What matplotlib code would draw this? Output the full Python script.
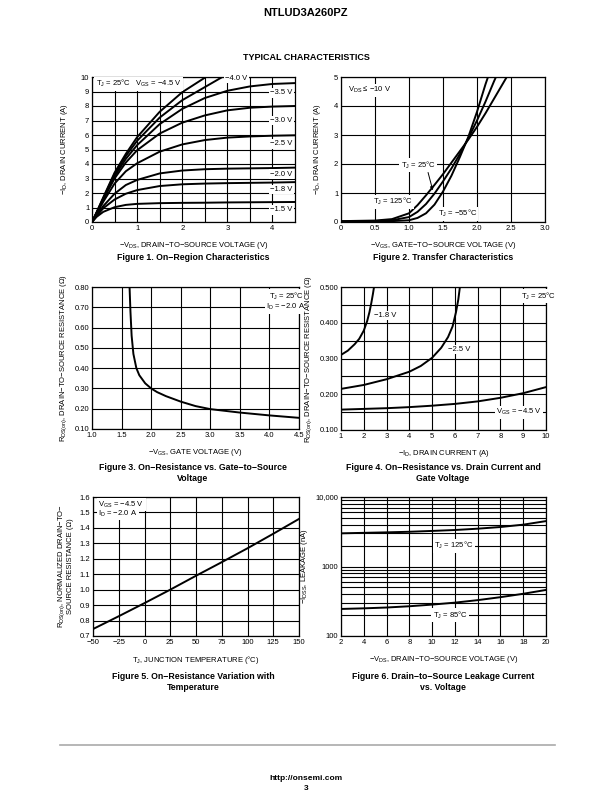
import numpy as np
import matplotlib
matplotlib.use("Agg")
import matplotlib.pyplot as plt
from matplotlib.ticker import NullFormatter

plt.rcParams['font.family'] = ['Liberation Sans', 'DejaVu Sans']
plt.rcParams['mathtext.fontset'] = 'custom'
plt.rcParams['mathtext.rm'] = 'Liberation Sans'
plt.rcParams['mathtext.it'] = 'Liberation Sans'
plt.rcParams['font.size'] = 5.5

# figure 1: on-region, -ID vs -VDS per VGS
f1_vds = [0, 0.1, 0.25, 0.5, 0.75, 1.0, 1.5, 2.0, 2.5, 3.0, 3.5, 4.0, 4.5]
f1_curves = {
    "-1.5": [0, 0.35, 0.7, 1.02, 1.18, 1.25, 1.3, 1.32, 1.33, 1.35, 1.36, 1.37, 1.38],
    "-1.8": [0, 0.4, 0.95, 1.55, 1.95, 2.2, 2.48, 2.6, 2.65, 2.68, 2.7, 2.72, 2.75],
    "-2.0": [0, 0.45, 1.1, 1.95, 2.55, 2.9, 3.35, 3.55, 3.64, 3.68, 3.7, 3.72, 3.75],
    "-2.5": [0, 0.55, 1.4, 2.65, 3.5, 4.05, 4.85, 5.35, 5.65, 5.82, 5.9, 5.95, 5.98],
    "-3.0": [0, 0.6, 1.55, 3.0, 4.1, 4.95, 6.1, 6.85, 7.35, 7.7, 7.88, 7.96, 8.0],
    "-3.5": [0, 0.62, 1.6, 3.15, 4.35, 5.3, 6.75, 7.8, 8.55, 9.05, 9.35, 9.52, 9.58],
    "-4.0": [0, 0.64, 1.65, 3.3, 4.55, 5.6, 7.2, 8.4, 9.3, 10.2, np.nan, np.nan, np.nan],
    "-4.5": [0, 0.66, 1.7, 3.4, 4.7, 5.85, 7.6, 8.95, 9.95, np.nan, np.nan, np.nan, np.nan],
}

# figure 2: transfer characteristics
f2_vgs = [0, 0.5, 0.75, 1.0, 1.125, 1.25, 1.375, 1.5, 1.625, 1.75, 1.875, 2.0, 2.125, 2.25, 2.375, 2.45]
f2_t125 = [0.03, 0.05, 0.1, 0.3, 0.58, 0.92, 1.28, 1.65, 2.05, 2.45, 2.85, 3.28, 3.75, 4.25, 4.75, 5.05]
f2_t25 = [0.02, 0.03, 0.06, 0.17, 0.35, 0.62, 0.98, 1.4, 1.85, 2.35, 2.9, 3.5, 4.15, 4.85, 5.5, np.nan]
f2_tm55 = [0.01, 0.02, 0.03, 0.06, 0.14, 0.3, 0.6, 1.05, 1.6, 2.25, 2.95, 3.8, 4.75, 5.6, np.nan, np.nan]

# figure 3: RDS(on) vs VGS
f3_vgs = [1.635, 1.65, 1.67, 1.7, 1.75, 1.8, 1.9, 2.0, 2.1, 2.25, 2.5, 2.75, 3.0, 3.5, 4.0, 4.5]
f3_rds = [0.8, 0.68, 0.56, 0.47, 0.4, 0.365, 0.325, 0.3, 0.282, 0.262, 0.235, 0.213, 0.198, 0.181, 0.167, 0.155]

# figure 4: RDS(on) vs ID
f4_id18 = [1.0, 1.3, 1.6, 1.8, 2.0, 2.15, 2.25, 2.33, 2.4, 2.45]
f4_r18 = [0.31, 0.322, 0.34, 0.355, 0.378, 0.405, 0.43, 0.455, 0.48, 0.5]
f4_id25 = [1.0, 2.0, 3.0, 4.0, 4.5, 5.0, 5.4, 5.7, 5.9, 6.05, 6.15, 6.22]
f4_r25 = [0.215, 0.226, 0.242, 0.263, 0.279, 0.302, 0.33, 0.36, 0.39, 0.43, 0.465, 0.5]
f4_id45 = [1, 2, 3, 4, 5, 6, 7, 8, 9, 10]
f4_r45 = [0.157, 0.159, 0.161, 0.164, 0.168, 0.173, 0.18, 0.19, 0.203, 0.22]

# figure 5: normalized RDS(on) vs TJ
f5_tj = [-50, -25, 0, 25, 50, 75, 100, 125, 150]
f5_r = [0.745, 0.828, 0.913, 1.0, 1.09, 1.178, 1.268, 1.362, 1.458]

# figure 6: leakage vs VDS
f6_vds = [2, 4, 6, 8, 10, 12, 14, 16, 18, 20]
f6_t125 = [3000, 3050, 3100, 3160, 3250, 3350, 3500, 3700, 4000, 4500]
f6_t85 = [245, 250, 257, 268, 283, 302, 328, 362, 405, 460]

W, H = 612, 792
fig = plt.figure(figsize=(W / 100, H / 100), dpi=100)


def make_ax(l, r, t, b):
    ax = fig.add_axes([l / W, 1 - b / H, (r - l) / W, (b - t) / H])
    ax.tick_params(which='both', length=0, pad=2, labelsize=5.5)
    ax.grid(True, which='both', color='black', linewidth=0.8)
    for s in ax.spines.values():
        s.set_linewidth(0.9)
    return ax


def caption(x, y, txt):
    fig.text(x / W, 1 - y / H, txt, ha='center', va='top', fontsize=6.3,
             fontweight='bold', linespacing=1.3)


box = dict(facecolor='white', edgecolor='none', pad=1)
lw = 1.4

fig.text(306 / W, 1 - 13 / H, "NTLUD3A260PZ", ha='center', va='center', fontsize=8, fontweight='bold')
fig.text(306 / W, 1 - 57 / H, "TYPICAL CHARACTERISTICS", ha='center', va='center', fontsize=6.5, fontweight='bold')

# Figure 1
ax = make_ax(92, 295, 77, 222)
for k, v in f1_curves.items():
    ax.plot(f1_vds, v, color='black', lw=lw, clip_on=True)
ax.set_xlim(0, 4.5)
ax.set_ylim(0, 10)
ax.set_xticks([0, 1, 2, 3, 4])
ax.set_xticks([0.5, 1.5, 2.5, 3.5], minor=True)
ax.set_yticks(range(11))
ax.set_xlabel(r"$-\mathregular{V_{DS}}$, DRAIN$-$TO$-$SOURCE VOLTAGE (V)", labelpad=6)
ax.set_ylabel(r"$-\mathregular{I_D}$, DRAIN CURRENT (A)", labelpad=8)
ax.text(0.08, 9.55, r"$\mathregular{T_J}$ = 25°C   $\mathregular{V_{GS}}$ = −4.5 V", va='center', bbox=box)
ax.text(2.95, 9.9, "−4.0 V", va='center', bbox=box)
for y, t in [(8.9, "−3.5 V"), (7.0, "−3.0 V"), (5.4, "−2.5 V"), (3.3, "−2.0 V"),
             (2.25, "−1.8 V"), (0.85, "−1.5 V")]:
    ax.text(3.95, y, t, va='center', bbox=box)
caption(193, 253, "Figure 1. On−Region Characteristics")

# Figure 2
ax = make_ax(341, 545, 77, 222)
ax.plot(f2_vgs, f2_t125, color='black', lw=lw)
ax.plot(f2_vgs, f2_t25, color='black', lw=lw)
ax.plot(f2_vgs, f2_tm55, color='black', lw=lw)
ax.set_xlim(0, 3)
ax.set_ylim(0, 5)
ax.set_xticks([0, 0.5, 1, 1.5, 2, 2.5, 3], ["0", "0.5", "1.0", "1.5", "2.0", "2.5", "3.0"])
ax.set_yticks(range(6))
ax.set_xlabel(r"$-\mathregular{V_{GS}}$, GATE$-$TO$-$SOURCE VOLTAGE (V)", labelpad=6)
ax.set_ylabel(r"$-\mathregular{I_D}$, DRAIN CURRENT (A)", labelpad=8)
ax.text(0.1, 4.55, r"$\mathregular{V_{DS}}$ ≤ −10 V", va='center', bbox=box)
ax.text(0.88, 1.95, r"$\mathregular{T_J}$ = 25°C", va='center', bbox=box)
ax.annotate("", xy=(1.36, 1.0), xytext=(1.27, 1.8),
            arrowprops=dict(arrowstyle='-|>', color='black', lw=0.7, mutation_scale=5))
ax.text(0.47, 0.7, r"$\mathregular{T_J}$ = 125°C", va='center', bbox=box)
ax.text(1.42, 0.28, r"$\mathregular{T_J}$ = −55°C", va='center', bbox=box)
caption(443, 253, "Figure 2. Transfer Characteristics")

# Figure 3
ax = make_ax(92, 299, 287, 429)
ax.plot(f3_vgs, f3_rds, color='black', lw=lw)
ax.set_xlim(1.0, 4.5)
ax.set_ylim(0.1, 0.8)
ax.set_xticks(np.arange(1.0, 4.51, 0.5), ["%.1f" % v for v in np.arange(1.0, 4.51, 0.5)])
ax.set_yticks(np.arange(0.1, 0.81, 0.1), ["%.2f" % v for v in np.arange(0.1, 0.81, 0.1)])
ax.set_xlabel(r"$-\mathregular{V_{GS}}$, GATE VOLTAGE (V)", labelpad=6)
ax.set_ylabel(r"$\mathregular{R_{DS(on)}}$, DRAIN$-$TO$-$SOURCE RESISTANCE (Ω)", labelpad=4)
ax.text(4.0, 0.755, r"$\mathregular{T_J}$ = 25°C", va='center', bbox=box)
ax.text(3.95, 0.7, r"$\mathregular{I_D}$ = −2.0 A", va='center', bbox=box)
caption(193, 463, "Figure 3. On−Resistance vs. Gate−to−Source\nVoltage")

# Figure 4
ax = make_ax(341, 546, 287, 430)
ax.plot(f4_id18, f4_r18, color='black', lw=lw)
ax.plot(f4_id25, f4_r25, color='black', lw=lw)
ax.plot(f4_id45, f4_r45, color='black', lw=lw)
ax.set_xlim(1, 10)
ax.set_ylim(0.1, 0.5)
ax.set_xticks(range(1, 11))
ax.set_yticks(np.arange(0.1, 0.51, 0.1), ["%.3f" % v for v in np.arange(0.1, 0.51, 0.1)])
ax.set_yticks(np.arange(0.15, 0.5, 0.1), minor=True)
ax.set_xlabel(r"$-\mathregular{I_D}$, DRAIN CURRENT (A)", labelpad=6)
ax.set_ylabel(r"$\mathregular{R_{DS(on)}}$, DRAIN$-$TO$-$SOURCE RESISTANCE (Ω)", labelpad=4)
ax.text(8.9, 0.475, r"$\mathregular{T_J}$ = 25°C", va='center', bbox=box)
ax.text(2.45, 0.42, "−1.8 V", va='center', bbox=box)
ax.text(5.7, 0.325, "−2.5 V", va='center', bbox=box)
ax.text(7.8, 0.15, r"$\mathregular{V_{GS}}$ = −4.5 V", va='center', bbox=box)
caption(443, 463, "Figure 4. On−Resistance vs. Drain Current and\nGate Voltage")

# Figure 5
ax = make_ax(93, 299, 497, 636)
ax.plot(f5_tj, f5_r, color='black', lw=lw)
ax.set_xlim(-50, 150)
ax.set_ylim(0.7, 1.6)
ax.set_xticks(range(-50, 151, 25))
ax.set_yticks(np.arange(0.7, 1.61, 0.1), ["%.1f" % v for v in np.arange(0.7, 1.61, 0.1)])
ax.set_xlabel(r"$\mathregular{T_J}$, JUNCTION TEMPERATURE (°C)", labelpad=6)
ax.set_ylabel(r"$\mathregular{R_{DS(on)}}$, NORMALIZED DRAIN$-$TO$-$" + "\nSOURCE RESISTANCE (Ω)",
              labelpad=4, linespacing=1.1)
ax.text(-45, 1.55, r"$\mathregular{V_{GS}}$ = −4.5 V", va='center', bbox=box)
ax.text(-45, 1.49, r"$\mathregular{I_D}$ = −2.0 A", va='center', bbox=box)
caption(193, 672, "Figure 5. On−Resistance Variation with\nTemperature")

# Figure 6
ax = make_ax(341, 546, 497, 636)
ax.plot(f6_vds, f6_t125, color='black', lw=lw)
ax.plot(f6_vds, f6_t85, color='black', lw=lw)
ax.set_yscale('log')
ax.set_xlim(2, 20)
ax.set_ylim(100, 10000)
ax.set_xticks(range(2, 21, 2))
ax.set_yticks([100, 1000, 10000], ["100", "1000", "10,000"])
ax.yaxis.set_minor_formatter(NullFormatter())
ax.tick_params(which='both', length=0)
ax.set_xlabel(r"$-\mathregular{V_{DS}}$, DRAIN$-$TO$-$SOURCE VOLTAGE (V)", labelpad=6)
ax.set_ylabel(r"$-\mathregular{I_{DSS}}$, LEAKAGE (nA)", labelpad=4)
ax.text(11.9, 2000, r"$\mathregular{T_J}$ = 125°C", ha='center', va='center', bbox=box)
ax.text(11.6, 200, r"$\mathregular{T_J}$ = 85°C", ha='center', va='center', bbox=box)
caption(443, 672, "Figure 6. Drain−to−Source Leakage Current\nvs. Voltage")

fig.add_artist(plt.Line2D([60 / W, 555 / W], [1 - 745 / H, 1 - 745 / H], color='#aaaaaa', lw=1.2))
fig.text(306 / W, 1 - 779 / H, "http://onsemi.com", ha='center', va='center', fontsize=6, fontweight='bold')
fig.text(306 / W, 1 - 789 / H, "3", ha='center', va='center', fontsize=6, fontweight='bold')

fig.savefig("out.png", dpi=100)
